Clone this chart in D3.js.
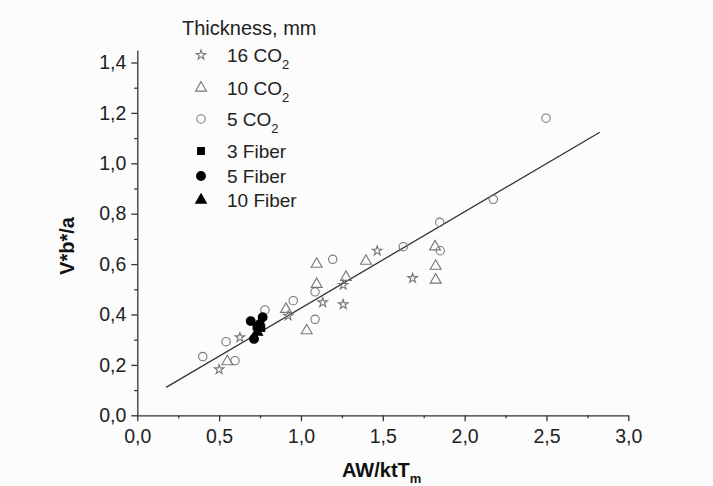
<!DOCTYPE html>
<html>
<head>
<meta charset="utf-8">
<script src="https://cdn.jsdelivr.net/npm/d3@7"></script>
<style>
  html, body { margin: 0; padding: 0; background: #fcfcfc; }
  svg { display: block; font-family: "Liberation Sans", Arial, sans-serif; }
  .axis path, .axis line { stroke: #333; stroke-width: 1.3; }
  .axis text { fill: #222; font-size: 19.5px; }
</style>
</head>
<body>
<svg id="chart" width="713" height="486"></svg>
<script>
// values
const star16 = [[0.50, 0.182], [0.627, 0.309], [0.922, 0.395], [1.133, 0.448], [1.258, 0.517], [1.258, 0.440], [1.466, 0.653], [1.682, 0.544]];
const tri10 = [[0.55, 0.213], [0.908, 0.421], [1.035, 0.336], [1.096, 0.600], [1.096, 0.520], [1.275, 0.548], [1.397, 0.612], [1.819, 0.669], [1.823, 0.592], [1.823, 0.537]];
const circ5 = [[0.40, 0.233], [0.542, 0.292], [0.597, 0.217], [0.780, 0.418], [0.953, 0.455], [1.086, 0.490], [1.086, 0.381], [1.194, 0.619], [1.625, 0.669], [1.851, 0.653], [1.848, 0.766], [2.175, 0.857], [2.497, 1.179]];
const fiber3 = [[0.728, 0.352], [0.758, 0.346]];
const fiber5 = [[0.693, 0.374], [0.766, 0.389], [0.713, 0.303], [0.748, 0.362]];
const fiber10 = [[0.733, 0.330]];
const fitLine = [[0.176, 0.111], [2.826, 1.123]];

const xMajor = [0, 0.5, 1.0, 1.5, 2.0, 2.5, 3.0];
const xMinor = [0.25, 0.75, 1.25, 1.75, 2.25, 2.75];
const yMajor = [0, 0.2, 0.4, 0.6, 0.8, 1.0, 1.2, 1.4];
const yMinor = [0.1, 0.3, 0.5, 0.7, 0.9, 1.1, 1.3];

const legendItems = [
  { label: "16 CO", sub: "2", shape: d3.symbolStar, size: 28, fill: "none", stroke: "#777" },
  { label: "10 CO", sub: "2", shape: d3.symbolTriangle, size: 52, fill: "none", stroke: "#777" },
  { label: "5 CO", sub: "2", shape: d3.symbolCircle, size: 55, fill: "none", stroke: "#777" },
  { label: "3 Fiber", sub: "", shape: d3.symbolSquare, size: 45, fill: "#000", stroke: "#000" },
  { label: "5 Fiber", sub: "", shape: d3.symbolCircle, size: 60, fill: "#000", stroke: "#000" },
  { label: "10 Fiber", sub: "", shape: d3.symbolTriangle, size: 50, fill: "#000", stroke: "#000" }
];
const series = [star16, tri10, circ5, fiber3, fiber5, fiber10];

const svg = d3.select("#chart");
const x = d3.scaleLinear().domain([0, 3]).range([137.3, 628.3]);
const y = d3.scaleLinear().domain([0, 1.45]).range([415.3, 49.9]);
const fmt = (d) => d3.format(".1f")(d).replace(".", ",");

// axes
svg.append("g").attr("class", "axis").attr("transform", `translate(0,${y(0)})`)
  .call(d3.axisBottom(x).tickValues(xMajor).tickFormat(fmt).tickSize(6).tickSizeOuter(0).tickPadding(8));
svg.append("g").attr("class", "axis minor").attr("transform", `translate(0,${y(0)})`)
  .call(d3.axisBottom(x).tickValues(xMinor).tickFormat("").tickSize(3).tickSizeOuter(0))
  .select(".domain").remove();
svg.append("g").attr("class", "axis").attr("transform", `translate(${x(0)},0)`)
  .call(d3.axisLeft(y).tickValues(yMajor).tickFormat(fmt).tickSize(6).tickSizeOuter(0).tickPadding(5));
svg.append("g").attr("class", "axis minor").attr("transform", `translate(${x(0)},0)`)
  .call(d3.axisLeft(y).tickValues(yMinor).tickFormat("").tickSize(3).tickSizeOuter(0))
  .select(".domain").remove();

// fit line
svg.append("path").datum(fitLine)
  .attr("d", d3.line().x((d) => x(d[0])).y((d) => y(d[1])))
  .attr("fill", "none").attr("stroke", "#333").attr("stroke-width", 1.3);

// points
series.forEach((pts, i) => {
  const it = legendItems[i];
  svg.append("g").selectAll("path").data(pts).join("path")
    .attr("transform", (d) => `translate(${x(d[0])},${y(d[1])})`)
    .attr("d", d3.symbol().type(it.shape).size(it.size))
    .attr("fill", it.fill).attr("stroke", it.stroke).attr("stroke-width", 1.1);
});

// legend
const legend = svg.append("g");
legend.append("text").attr("x", 182).attr("y", 35).attr("font-size", 20).attr("fill", "#222").text("Thickness, mm");
const baselines = [62, 95, 126, 158, 183, 207];
legendItems.forEach((it, i) => {
  legend.append("path")
    .attr("transform", `translate(201,${baselines[i] - 7})`)
    .attr("d", d3.symbol().type(it.shape).size(it.size))
    .attr("fill", it.fill).attr("stroke", it.stroke).attr("stroke-width", 1.1);
  const t = legend.append("text").attr("x", 227).attr("y", baselines[i]).attr("font-size", 19).attr("fill", "#222");
  t.append("tspan").text(it.label);
  if (it.sub) t.append("tspan").attr("font-size", 13).attr("dy", 7).text(it.sub);
});

// axis titles
const xt = svg.append("text").attr("x", 342).attr("y", 477).attr("font-size", 20).attr("font-weight", "bold").attr("fill", "#111");
xt.append("tspan").text("AW/ktT");
xt.append("tspan").attr("font-size", 13).attr("dy", 6).text("m");
svg.append("text").attr("transform", "translate(74,246) rotate(-90)").attr("text-anchor", "middle")
  .attr("font-size", 20).attr("font-weight", "bold").attr("fill", "#111").text("V*b*/a");
</script>
</body>
</html>
